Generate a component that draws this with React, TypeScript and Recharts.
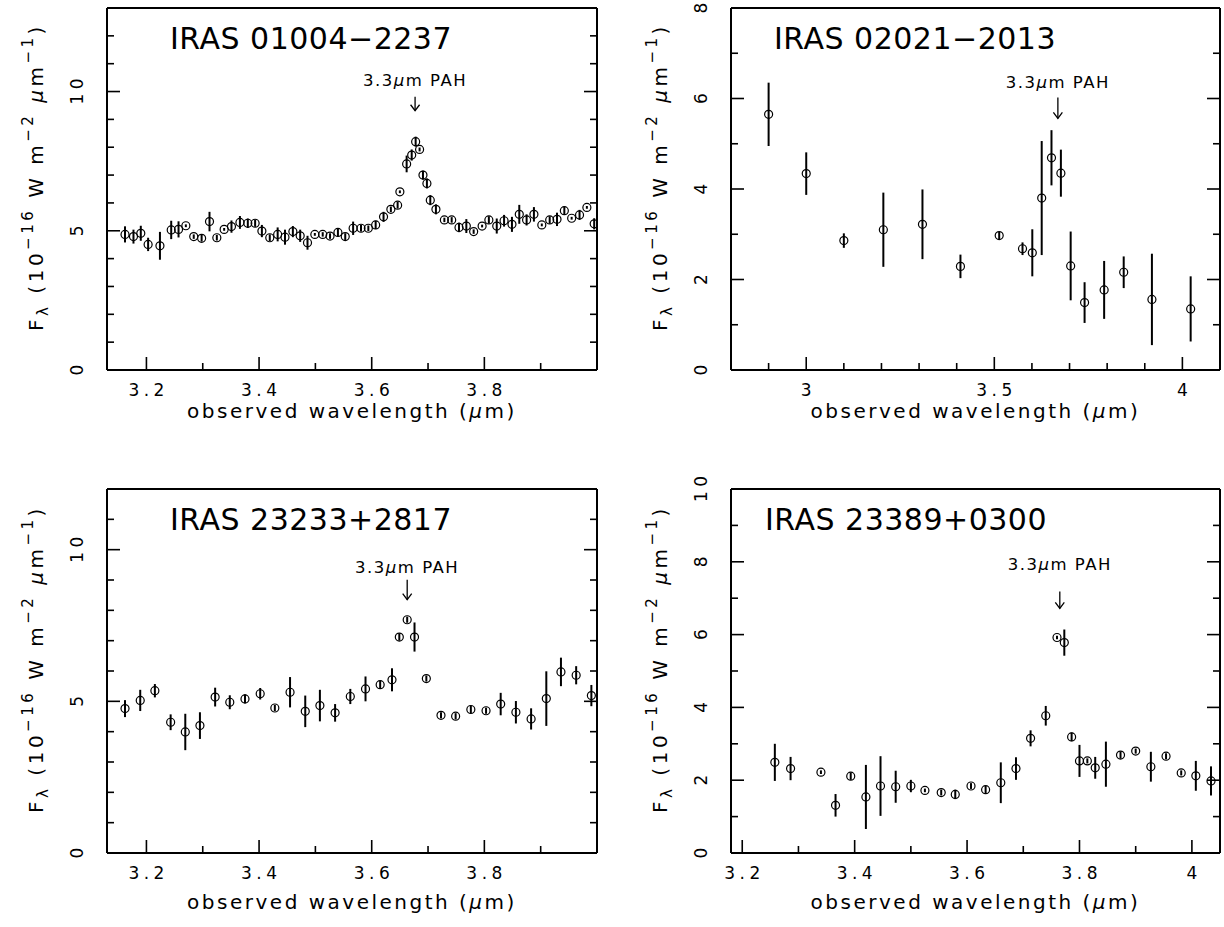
import React from "react";
import {
  ComposedChart,
  Scatter,
  ErrorBar,
  XAxis,
  YAxis,
  ReferenceDot,
} from "recharts";

const FONT = "'DejaVu Sans', sans-serif";

// IRAS 01004-2237
const wave1 = [
  3.162, 3.177, 3.19, 3.203, 3.224, 3.244, 3.257, 3.27, 3.284, 3.298,
  3.312, 3.325, 3.338, 3.351, 3.366, 3.38, 3.393, 3.405, 3.419, 3.433,
  3.446, 3.46, 3.473, 3.486, 3.499, 3.513, 3.526, 3.54, 3.553, 3.567,
  3.581, 3.594, 3.607, 3.621, 3.634, 3.646, 3.65, 3.662, 3.671, 3.678,
  3.685, 3.691, 3.698, 3.704, 3.714, 3.729, 3.742, 3.755, 3.768, 3.781,
  3.796, 3.808, 3.822, 3.835, 3.849, 3.862, 3.875, 3.888, 3.902, 3.916,
  3.929, 3.942, 3.955, 3.969, 3.982, 3.995,
];
const flux1 = [
  4.87, 4.79, 4.91, 4.51, 4.46, 5.03, 5.05, 5.18, 4.79, 4.73,
  5.33, 4.75, 5.05, 5.15, 5.3, 5.27, 5.27, 4.99, 4.75, 4.87,
  4.77, 4.97, 4.82, 4.57, 4.87, 4.87, 4.81, 4.94, 4.79, 5.09,
  5.09, 5.09, 5.21, 5.5, 5.77, 5.92, 6.4, 7.4, 7.72, 8.2,
  7.92, 7.0, 6.7, 6.1, 5.77, 5.39, 5.39, 5.12, 5.17, 4.97,
  5.17, 5.39, 5.17, 5.36, 5.23, 5.59, 5.39, 5.59, 5.21, 5.39,
  5.41, 5.72, 5.45, 5.57, 5.84, 5.25,
];
const err1 = [
  0.29, 0.25, 0.27, 0.24, 0.5, 0.33, 0.29, 0.05, 0.08, 0.12,
  0.35, 0.1, 0.05, 0.22, 0.23, 0.17, 0.13, 0.22, 0.12, 0.25,
  0.27, 0.2, 0.22, 0.25, 0.05, 0.08, 0.1, 0.15, 0.12, 0.24,
  0.12, 0.1, 0.15, 0.18, 0.1, 0.12, 0.05, 0.3, 0.2, 0.18,
  0.07, 0.16, 0.18, 0.18, 0.18, 0.08, 0.1, 0.17, 0.25, 0.08,
  0.05, 0.13, 0.27, 0.21, 0.27, 0.34, 0.2, 0.26, 0.05, 0.13,
  0.24, 0.15, 0.05, 0.18, 0.05, 0.2,
];

// IRAS 02021-2013
const wave2 = [
  2.9, 3.0, 3.1, 3.205, 3.309, 3.41, 3.513, 3.575, 3.601, 3.626,
  3.652, 3.677, 3.703, 3.74, 3.792, 3.844, 3.919, 4.022,
];
const flux2 = [
  5.65, 4.34, 2.86, 3.1, 3.22, 2.29, 2.97, 2.68, 2.59, 3.8,
  4.69, 4.35, 2.3, 1.49, 1.77, 2.16, 1.56, 1.35,
];
const err2 = [
  0.7, 0.47, 0.16, 0.82, 0.77, 0.26, 0.08, 0.14, 0.52, 1.26,
  0.61, 0.52, 0.76, 0.45, 0.64, 0.35, 1.01, 0.72,
];

// IRAS 23233+2817
const wave3 = [
  3.162, 3.189, 3.215, 3.243, 3.269, 3.295, 3.322, 3.348, 3.375, 3.402,
  3.428, 3.455, 3.482, 3.508, 3.535, 3.562, 3.589, 3.615, 3.636, 3.649,
  3.663, 3.676, 3.697, 3.723, 3.749, 3.776, 3.803, 3.829, 3.856, 3.883,
  3.91, 3.936, 3.963, 3.99,
];
const flux3 = [
  4.76, 5.03, 5.35, 4.31, 3.99, 4.2, 5.14, 4.97, 5.08, 5.25,
  4.78, 5.3, 4.67, 4.86, 4.62, 5.16, 5.41, 5.55, 5.71, 7.12,
  7.69, 7.12, 5.75, 4.54, 4.51, 4.73, 4.69, 4.91, 4.64, 4.42,
  5.09, 5.97, 5.86, 5.19,
];
const err3 = [
  0.28, 0.35, 0.22, 0.26, 0.6, 0.44, 0.31, 0.23, 0.15, 0.19,
  0.1, 0.5, 0.52, 0.52, 0.29, 0.25, 0.41, 0.12, 0.38, 0.12,
  0.1, 0.48, 0.1, 0.1, 0.1, 0.12, 0.1, 0.37, 0.37, 0.35,
  0.9, 0.47, 0.3, 0.35,
];

// IRAS 23389+0300
const wave4 = [
  3.258, 3.286, 3.34, 3.366, 3.393, 3.42, 3.446, 3.473, 3.5, 3.525,
  3.554, 3.579, 3.607, 3.633, 3.66, 3.687, 3.713, 3.74, 3.76, 3.773,
  3.786, 3.8, 3.814, 3.828, 3.847, 3.873, 3.9, 3.927, 3.954, 3.981,
  4.007, 4.034,
];
const flux4 = [
  2.49, 2.32, 2.22, 1.31, 2.11, 1.54, 1.84, 1.82, 1.84, 1.72,
  1.66, 1.61, 1.84, 1.74, 1.93, 2.32, 3.15, 3.77, 5.92, 5.78,
  3.19, 2.53, 2.53, 2.34, 2.44, 2.69, 2.8, 2.37, 2.66, 2.2,
  2.12, 1.98,
];
const err4 = [
  0.51, 0.32, 0.05, 0.31, 0.1, 0.88, 0.82, 0.44, 0.17, 0.05,
  0.08, 0.13, 0.08, 0.1, 0.56, 0.31, 0.22, 0.27, 0.05, 0.36,
  0.12, 0.44, 0.07, 0.3, 0.62, 0.1, 0.07, 0.41, 0.08, 0.07,
  0.41, 0.4,
];

// tick values
const xTicksA = [3.2, 3.3, 3.4, 3.5, 3.6, 3.7, 3.8, 3.9];
const xMajorA = [3.2, 3.4, 3.6, 3.8];
const xTicksB = [2.9, 3.0, 3.1, 3.2, 3.3, 3.4, 3.5, 3.6, 3.7, 3.8, 3.9, 4.0];
const xMajorB = [3.0, 3.5, 4.0];
const xTicksD = [3.2, 3.3, 3.4, 3.5, 3.6, 3.7, 3.8, 3.9, 4.0];
const xMajorD = [3.2, 3.4, 3.6, 3.8, 4.0];
const yTicks13 = [0, 1, 2, 3, 4, 5, 6, 7, 8, 9, 10, 11, 12];
const yTicks12 = [0, 1, 2, 3, 4, 5, 6, 7, 8, 9, 10, 11];
const yMajor5 = [0, 5, 10];
const yTicks8 = [0, 1, 2, 3, 4, 5, 6, 7, 8];
const yTicks10 = [0, 1, 2, 3, 4, 5, 6, 7, 8, 9, 10];
const yMajor2 = [0, 2, 4, 6, 8, 10];

const toPoints = (w: number[], f: number[], e: number[]) =>
  w.map((x, i) => ({ x, y: f[i], e: e[i] }));

const isMajor = (v: number, majors: number[]) =>
  majors.some((m) => Math.abs(m - v) < 1e-6);

const TICK_FS = 17;
const TICK_LS = 4.5;

const makeTick =
  (side: "bottom" | "top" | "left" | "right", majors: number[], labels: boolean) =>
  (props: any) => {
    const { x, y, payload } = props;
    const v = payload.value;
    const maj = isMajor(v, majors);
    const len = maj ? 13 : 7;
    const st = { stroke: "#000", strokeWidth: 1.6 };
    if (side === "bottom") {
      return (
        <g>
          <line x1={x} y1={y} x2={x} y2={y - len} {...st} />
          {labels && maj && (
            <text
              x={x + TICK_LS / 2}
              y={y + 26}
              textAnchor="middle"
              fontFamily={FONT}
              fontSize={TICK_FS}
              letterSpacing={TICK_LS}
              fill="#000"
            >
              {String(v)}
            </text>
          )}
        </g>
      );
    }
    if (side === "top") {
      return <line x1={x} y1={y} x2={x} y2={y + len} {...st} />;
    }
    if (side === "left") {
      return (
        <g>
          <line x1={x} y1={y} x2={x + len} y2={y} {...st} />
          {labels && maj && (
            <text
              transform={`translate(${x - 24},${y - TICK_LS / 2}) rotate(-90)`}
              textAnchor="middle"
              fontFamily={FONT}
              fontSize={TICK_FS}
              letterSpacing={TICK_LS}
              fill="#000"
            >
              {String(v)}
            </text>
          )}
        </g>
      );
    }
    return <line x1={x} y1={y} x2={x - len} y2={y} {...st} />;
  };

const YTitle = ({ x, y }: { x: number; y: number }) => (
  <text
    transform={`translate(${x},${y}) rotate(-90)`}
    textAnchor="middle"
    fontFamily={FONT}
    fontSize={20}
    letterSpacing={3.5}
    fill="#000"
  >
    <tspan>F</tspan>
    <tspan fontSize={15} dy={5}>λ</tspan>
    <tspan dy={-5}>{" (10"}</tspan>
    <tspan fontSize={15} dy={-10}>−16</tspan>
    <tspan dy={10}>{" W m"}</tspan>
    <tspan fontSize={15} dy={-10}>−2</tspan>
    <tspan dy={10}>{" "}</tspan>
    <tspan fontStyle="italic">μ</tspan>
    <tspan>m</tspan>
    <tspan fontSize={15} dy={-10}>−1</tspan>
    <tspan dy={10}>)</tspan>
  </text>
);

const XTitle = ({ x, y }: { x: number; y: number }) => (
  <text
    x={x}
    y={y}
    textAnchor="middle"
    fontFamily={FONT}
    fontSize={20}
    letterSpacing={2.5}
    fill="#000"
  >
    {"observed wavelength ("}
    <tspan fontStyle="italic">μ</tspan>
    {"m)"}
  </text>
);

const pahShape = (len: number, gap: number) => (props: any) => {
  const { cx, cy } = props;
  return (
    <g>
      <line x1={cx} y1={cy - len} x2={cx} y2={cy} stroke="#000" strokeWidth={1.3} />
      <path
        d={`M${cx - 4.5},${cy - 6} L${cx},${cy} L${cx + 4.5},${cy - 6}`}
        fill="none"
        stroke="#000"
        strokeWidth={1.3}
      />
      <text
        x={cx}
        y={cy - len - gap}
        textAnchor="middle"
        fontFamily={FONT}
        fontSize={16.5}
        letterSpacing={1.5}
        fill="#000"
      >
        {"3.3"}
        <tspan fontStyle="italic">μ</tspan>
        {"m PAH"}
      </text>
    </g>
  );
};

interface PanelProps {
  left: number;
  top: number;
  width: number;
  height: number;
  x0: number;
  x1: number;
  y0: number;
  y1: number;
  points: { x: number; y: number; e: number }[];
  xDomain: [number, number];
  yDomain: [number, number];
  xTicks: number[];
  xMajor: number[];
  yTicks: number[];
  yMajor: number[];
  title: string;
  titleDx: number;
  xTitleDy: number;
  pah: { x: number; y: number; len: number; gap: number };
}

const YW = 100;
const XH = 60;

const Panel: React.FC<PanelProps> = (p) => {
  const margin = {
    left: p.x0 - YW,
    top: p.y0 - 1,
    right: p.width - p.x1 - 1,
    bottom: p.height - p.y1 - XH,
  };
  const axisLine = { stroke: "#000", strokeWidth: 2 };
  return (
    <div style={{ position: "absolute", left: p.left, top: p.top }}>
      <ComposedChart width={p.width} height={p.height} margin={margin}>
        <XAxis
          xAxisId="b"
          dataKey="x"
          type="number"
          domain={p.xDomain}
          allowDataOverflow
          ticks={p.xTicks}
          interval={0}
          tickSize={0}
          tickMargin={0}
          tickLine={false}
          axisLine={axisLine}
          height={XH}
          tick={makeTick("bottom", p.xMajor, true)}
        />
        <XAxis
          xAxisId="t"
          orientation="top"
          type="number"
          domain={p.xDomain}
          allowDataOverflow
          ticks={p.xTicks}
          interval={0}
          tickSize={0}
          tickMargin={0}
          tickLine={false}
          axisLine={axisLine}
          height={1}
          tick={makeTick("top", p.xMajor, false)}
        />
        <YAxis
          yAxisId="l"
          type="number"
          domain={p.yDomain}
          allowDataOverflow
          ticks={p.yTicks}
          interval={0}
          tickSize={0}
          tickMargin={0}
          tickLine={false}
          axisLine={axisLine}
          width={YW}
          tick={makeTick("left", p.yMajor, true)}
        />
        <YAxis
          yAxisId="r"
          orientation="right"
          type="number"
          domain={p.yDomain}
          allowDataOverflow
          ticks={p.yTicks}
          interval={0}
          tickSize={0}
          tickMargin={0}
          tickLine={false}
          axisLine={axisLine}
          width={1}
          tick={makeTick("right", p.yMajor, false)}
        />
        <Scatter
          xAxisId="b"
          yAxisId="l"
          data={p.points}
          dataKey="y"
          isAnimationActive={false}
          shape={(s: any) => (
            <circle cx={s.cx} cy={s.cy} r={4} fill="none" stroke="#000" strokeWidth={1.2} />
          )}
        >
          <ErrorBar
            dataKey="e"
            direction="y"
            width={0}
            stroke="#000"
            strokeWidth={2}
            isAnimationActive={false}
          />
        </Scatter>
        <ReferenceDot
          xAxisId="b"
          yAxisId="l"
          x={p.pah.x}
          y={p.pah.y}
          ifOverflow="visible"
          shape={pahShape(p.pah.len, p.pah.gap)}
        />
        <text
          x={p.x0 + p.titleDx}
          y={p.y0 + 41}
          fontFamily={FONT}
          fontSize={30}
          letterSpacing={0.5}
          fill="#000"
        >
          {p.title}
        </text>
        <XTitle x={(p.x0 + p.x1) / 2} y={p.y1 + p.xTitleDy} />
        <YTitle x={p.x0 - 64} y={(p.y0 + p.y1) / 2 - 12} />
      </ComposedChart>
    </div>
  );
};

export default function App() {
  return (
    <div
      style={{
        position: "absolute",
        left: 0,
        top: 0,
        width: 1224,
        height: 927,
        background: "#fff",
        overflow: "hidden",
      }}
    >
      <Panel
        left={0}
        top={0}
        width={612}
        height={463}
        x0={107}
        x1={597}
        y0={8}
        y1={370}
        points={toPoints(wave1, flux1, err1)}
        xDomain={[3.13, 4.0]}
        yDomain={[0, 13]}
        xTicks={xTicksA}
        xMajor={xMajorA}
        yTicks={yTicks13}
        yMajor={yMajor5}
        title="IRAS 01004−2237"
        titleDx={63}
        xTitleDy={48}
        pah={{ x: 3.677, y: 9.31, len: 14, gap: 11 }}
      />
      <Panel
        left={612}
        top={0}
        width={612}
        height={463}
        x0={119}
        x1={608}
        y0={8}
        y1={370}
        points={toPoints(wave2, flux2, err2)}
        xDomain={[2.8, 4.1]}
        yDomain={[0, 8]}
        xTicks={xTicksB}
        xMajor={xMajorB}
        yTicks={yTicks8}
        yMajor={yMajor2}
        title="IRAS 02021−2013"
        titleDx={43}
        xTitleDy={48}
        pah={{ x: 3.669, y: 5.56, len: 21, gap: 9 }}
      />
      <Panel
        left={0}
        top={463}
        width={612}
        height={464}
        x0={107}
        x1={597}
        y0={26}
        y1={390}
        points={toPoints(wave3, flux3, err3)}
        xDomain={[3.13, 4.0]}
        yDomain={[0, 12]}
        xTicks={xTicksA}
        xMajor={xMajorA}
        yTicks={yTicks12}
        yMajor={yMajor5}
        title="IRAS 23233+2817"
        titleDx={63}
        xTitleDy={56}
        pah={{ x: 3.663, y: 8.35, len: 20, gap: 7 }}
      />
      <Panel
        left={612}
        top={463}
        width={612}
        height={464}
        x0={119}
        x1={608}
        y0={26}
        y1={390}
        points={toPoints(wave4, flux4, err4)}
        xDomain={[3.18, 4.05]}
        yDomain={[0, 10]}
        xTicks={xTicksD}
        xMajor={xMajorD}
        yTicks={yTicks10}
        yMajor={yMajor2}
        title="IRAS 23389+0300"
        titleDx={34}
        xTitleDy={56}
        pah={{ x: 3.765, y: 6.72, len: 17, gap: 21 }}
      />
    </div>
  );
}
